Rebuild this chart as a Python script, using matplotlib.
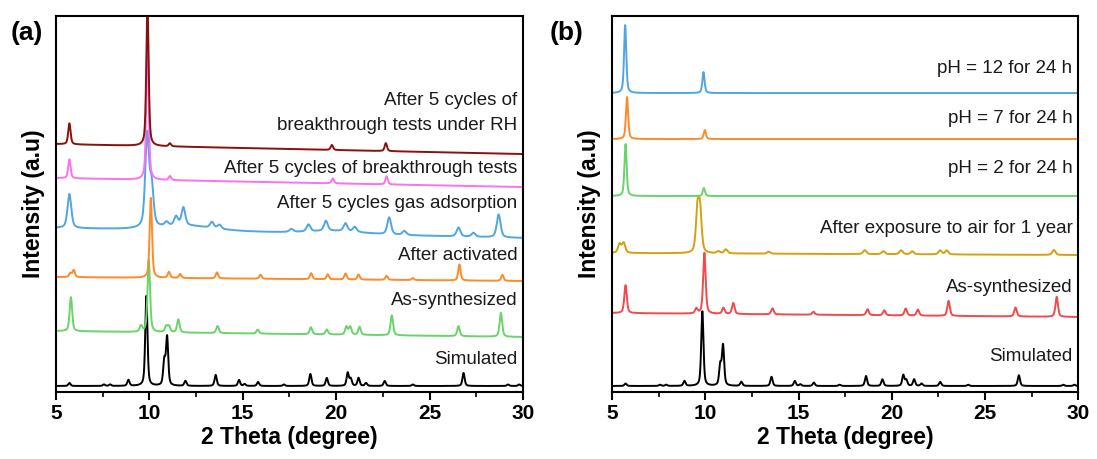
import numpy as np
import matplotlib
matplotlib.use("Agg")
import matplotlib.pyplot as plt
from matplotlib.ticker import MultipleLocator

plt.rcParams['font.family'] = ['Liberation Sans', 'DejaVu Sans']

# 2-theta peak lists (position in degree, height in a.u.) for every pattern
sim_pos = [5.72, 7.57, 7.9, 8.88, 9.84, 10.8, 10.95, 11.93, 13.55, 14.8, 15.1, 15.82, 17.2,
           18.62, 19.5, 20.62, 20.78, 21.2, 21.6, 22.6, 24.1, 26.82, 29.2, 29.8]
sim_amp = [3, 1.5, 1.5, 6, 90, 24, 48, 5, 11, 6, 2, 4, 1.5,
           12, 8, 13, 7, 8, 3, 5, 1.5, 13, 1.5, 1.5]

syn_pos = [5.8, 9.55, 9.97, 10.9, 11.05, 11.55, 13.65, 15.8, 18.65, 19.5, 20.55, 20.75,
           21.25, 22.98, 26.55, 28.82]
syn_amp = [34, 6, 72, 6, 6, 13, 7, 4, 7, 5, 8, 8, 8, 20, 10, 24]

act_pos = [5.77, 5.95, 10.08, 11.05, 11.65, 13.62, 15.95, 18.66, 19.55, 20.5, 21.2, 22.7,
           24.1, 26.6, 28.9]
act_amp = [4, 7, 80, 6, 4, 6, 4, 6, 5, 6, 5, 4, 2, 16, 6]

gas_pos = [5.72, 9.88, 10.12, 10.92, 11.43, 11.82, 13.35, 13.75, 17.6, 18.52, 19.45, 20.5,
           21.0, 22.84, 23.65, 26.55, 27.35, 28.7]
gas_amp = [34, 92, 40, 4, 9, 18, 6, 4, 3, 7, 10, 8, 5, 17, 4, 9, 4, 23]
# broad amorphous humps under the gas-adsorption pattern
gas_hump_pos = [12.0, 20.0]
gas_hump_amp = [5, 3]

cyc_pos = [5.72, 9.9, 11.1, 19.82, 22.7]
cyc_amp = [19, 145, 4, 5, 8]

rh_pos = [5.72, 9.9, 11.1, 19.77, 22.66]
rh_amp = [21, 140, 3, 5, 8]

b_syn_pos = [5.72, 9.52, 9.95, 10.97, 11.5, 13.6, 15.8, 18.7, 19.6, 20.75, 21.4, 23.05,
             26.64, 28.85]
b_syn_amp = [28, 5, 61, 6, 11, 6, 3, 6, 5, 7, 6, 15, 9, 20]

air_pos = [5.4, 5.62, 9.58, 9.72, 10.7, 11.1, 13.4, 18.55, 19.55, 20.5, 21.1, 22.6, 22.95, 28.7]
air_amp = [9, 10, 42, 40, 2, 4, 2, 4, 3, 4, 3, 4, 4, 5]

ph2_pos, ph2_amp = [5.72, 9.92], [52, 8]
ph7_pos, ph7_amp = [5.8, 9.97], [42, 9]
ph12_pos, ph12_amp = [5.7, 9.9], [68, 21]

# simulated pattern is shown a little smaller in panel (b)
sim_scale_b = 0.83


def pattern(x, pos, amp, fwhm, base0, base1):
    y = np.linspace(base0, base1, x.size)
    hw = fwhm / 2.0
    for p, a in zip(pos, amp):
        lor = hw**2 / ((x - p)**2 + hw**2)
        gau = np.exp(-np.log(2) * ((x - p) / hw)**2)
        y = y + a * (0.5 * lor + 0.5 * gau)
    return y


x = np.linspace(5, 30, 4000)

fig = plt.figure(figsize=(10.97, 4.59), dpi=100)
ax1 = fig.add_axes([0.051, 0.146, 0.4257, 0.819])
ax2 = fig.add_axes([0.558, 0.146, 0.4248, 0.819])

lw = 1.4
# panel (a)
gas = pattern(x, gas_pos, gas_amp, 0.24, 164, 154) + pattern(x, gas_hump_pos, gas_hump_amp, 3.5, 0, 0)
ax1.plot(x, pattern(x, sim_pos, sim_amp, 0.14, 6, 6), color='black', lw=lw)
ax1.plot(x, pattern(x, syn_pos, syn_amp, 0.16, 61, 55), color='#6ad36a', lw=lw)
ax1.plot(x, pattern(x, act_pos, act_amp, 0.15, 115, 111), color='#ff8a2a', lw=lw)
ax1.plot(x, gas, color='#52a5e3', lw=lw)
ax1.plot(x, pattern(x, cyc_pos, cyc_amp, 0.15, 214, 205), color='#ff70f0', lw=lw)
ax1.plot(x, pattern(x, rh_pos, rh_amp, 0.15, 248, 238), color='#8c0f0f', lw=lw)

# panel (b)
ax2.plot(x, pattern(x, sim_pos, np.array(sim_amp) * sim_scale_b, 0.14, 6, 6), color='black', lw=lw)
ax2.plot(x, pattern(x, b_syn_pos, b_syn_amp, 0.16, 79, 75), color='#f24a4a', lw=lw)
ax2.plot(x, pattern(x, air_pos, air_amp, 0.2, 139, 137), color='#d4a010', lw=lw)
ax2.plot(x, pattern(x, ph2_pos, ph2_amp, 0.14, 196, 196), color='#6ad36a', lw=lw)
ax2.plot(x, pattern(x, ph7_pos, ph7_amp, 0.14, 253, 253), color='#ff8a2a', lw=lw)
ax2.plot(x, pattern(x, ph12_pos, ph12_amp, 0.14, 299, 299), color='#52a5e3', lw=lw)

txt = dict(ha='right', va='center', fontsize=13.5, color='#1a1a1a')
ax1.text(29.7, 292, 'After 5 cycles of', **txt)
ax1.text(29.7, 267, 'breakthrough tests under RH', **txt)
ax1.text(29.7, 224, 'After 5 cycles of breakthrough tests', **txt)
ax1.text(29.7, 189, 'After 5 cycles gas adsorption', **txt)
ax1.text(29.7, 137, 'After activated', **txt)
ax1.text(29.7, 92, 'As-synthesized', **txt)
ax1.text(29.7, 32, 'Simulated', **txt)

ax2.text(29.7, 324, 'pH = 12 for 24 h', **txt)
ax2.text(29.7, 274, 'pH = 7 for 24 h', **txt)
ax2.text(29.7, 224, 'pH = 2 for 24 h', **txt)
ax2.text(29.7, 164, 'After exposure to air for 1 year', **txt)
ax2.text(29.7, 105, 'As-synthesized', **txt)
ax2.text(29.7, 35, 'Simulated', **txt)

for ax, lab, lx in [(ax1, '(a)', -0.062), (ax2, '(b)', -0.097)]:
    ax.set_xlim(5, 30)
    ax.set_ylim(0, 376)
    ax.set_yticks([])
    ax.xaxis.set_major_locator(MultipleLocator(5))
    ax.xaxis.set_minor_locator(MultipleLocator(2.5))
    ax.tick_params(axis='x', which='major', direction='out', length=6, width=1.5,
                   labelsize=15, pad=3)
    ax.tick_params(axis='x', which='minor', direction='out', length=3.5, width=1.2)
    for lbl in ax.get_xticklabels():
        lbl.set_fontweight('bold')
    for sp in ax.spines.values():
        sp.set_linewidth(1.5)
    ax.set_xlabel('2 Theta (degree)', fontsize=16.5, fontweight='bold', labelpad=2)
    ax.set_ylabel('Intensity (a.u)', fontsize=16.5, fontweight='bold', labelpad=8)
    ax.text(lx, 0.955, lab, transform=ax.transAxes, fontsize=19, fontweight='bold',
            ha='center', va='center')

fig.savefig('out.png', dpi=100)
